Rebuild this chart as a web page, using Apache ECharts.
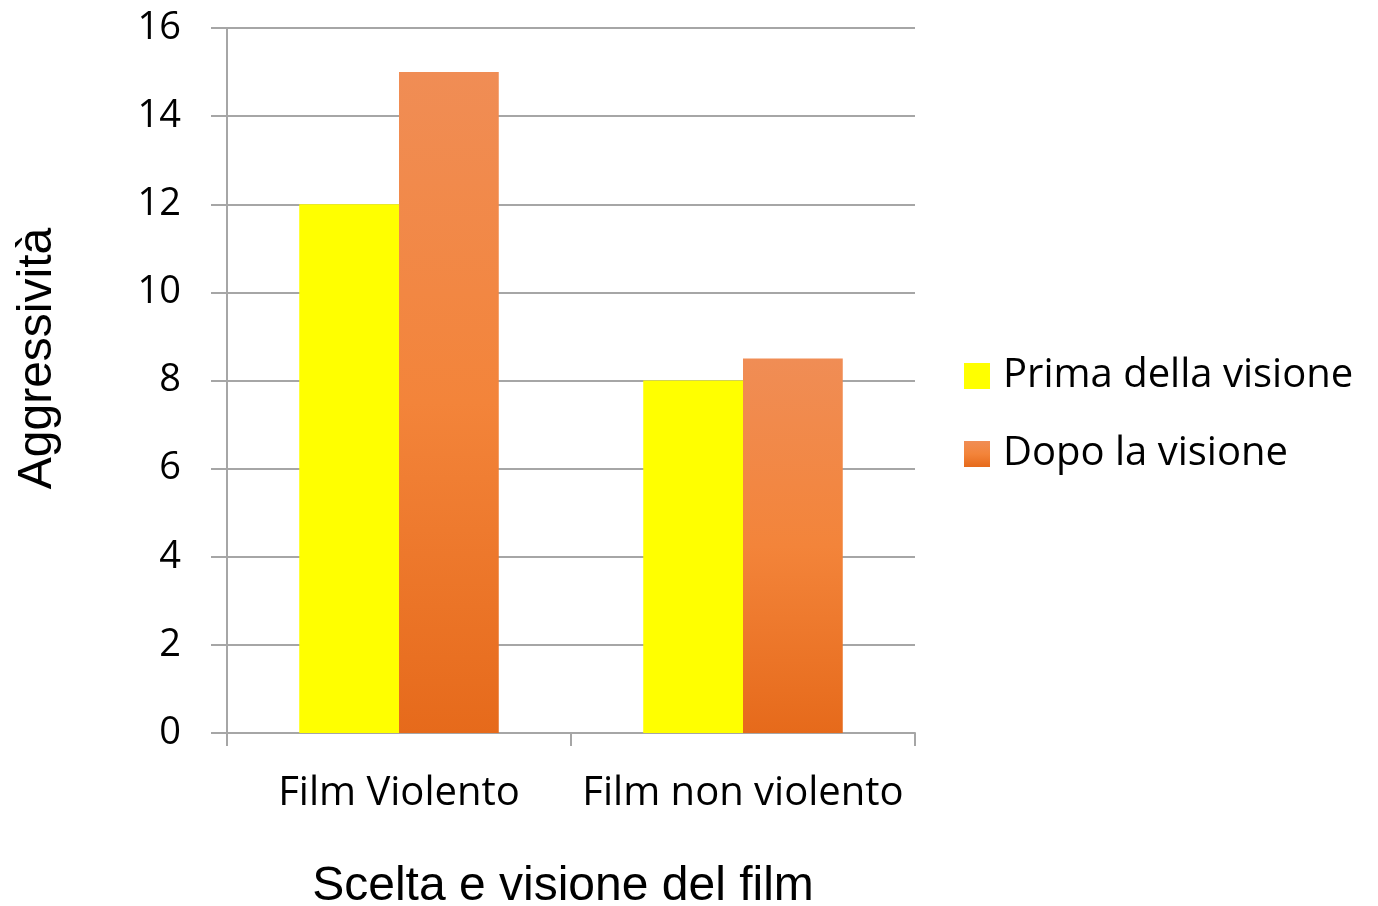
<!DOCTYPE html>
<html>
<head>
<meta charset="utf-8">
<script src="https://cdn.jsdelivr.net/npm/echarts@6/dist/echarts.min.js"></script>
<style>
  html, body { margin: 0; padding: 0; background: #ffffff; }
  #chart { width: 1378px; height: 906px; }
</style>
</head>
<body>
<div id="chart"></div>
<script>
// Aggressiveness before and after watching, by type of film
const categories = ['Film Violento', 'Film non violento'];
const seriesNames = ['Prima della visione', 'Dopo la visione'];
const primaValues = [12, 8];
const dopoValues = [15, 8.5];
const yTicks = { min: 0, max: 16, interval: 2 };

const labelFont = '"Open Sans", Lato, sans-serif';
const titleFont = '"Liberation Sans", Arial, sans-serif';
const gridColor = '#a6a6a6';

const orangeFill = new echarts.graphic.LinearGradient(0, 0, 0, 1, [
  { offset: 0, color: '#f08d55' },
  { offset: 0.5, color: '#f3843a' },
  { offset: 1, color: '#e66a1b' }
]);

const chart = echarts.init(document.getElementById('chart'), null, { renderer: 'canvas' });
chart.setOption({
  backgroundColor: '#ffffff',
  animation: false,
  grid: { left: 227, right: 463, top: 28, bottom: 173, containLabel: false, outerBoundsMode: 'none' },
  legend: {
    orient: 'vertical',
    left: 959,
    top: 351,
    itemWidth: 26,
    itemHeight: 26,
    itemGap: 38,
    icon: 'rect',
    data: seriesNames,
    textStyle: {
      fontFamily: labelFont,
      fontSize: 40,
      color: '#000000',
      lineHeight: 34,
      padding: [0, 0, 0, 8]
    }
  },
  xAxis: {
    type: 'category',
    data: categories,
    name: 'Scelta e visione del film',
    nameLocation: 'middle',
    nameGap: 130,
    nameTextStyle: { fontFamily: titleFont, fontSize: 48, color: '#000000', padding: [0, 16, 0, 0] },
    axisLine: { show: true, lineStyle: { color: gridColor, width: 2 } },
    axisTick: { show: true, length: 13, lineStyle: { color: gridColor, width: 2 } },
    axisLabel: { fontFamily: labelFont, fontSize: 40, color: '#000000', margin: 41, interval: 0 }
  },
  yAxis: {
    type: 'value',
    min: yTicks.min,
    max: yTicks.max,
    interval: yTicks.interval,
    name: 'Aggressività',
    nameLocation: 'middle',
    nameGap: 165,
    nameTextStyle: { fontFamily: titleFont, fontSize: 48, color: '#000000', padding: [0, 0, 0, 44] },
    axisLine: { show: true, lineStyle: { color: gridColor, width: 2 } },
    axisTick: { show: true, inside: false, length: 16, lineStyle: { color: gridColor, width: 2 } },
    axisLabel: { fontFamily: labelFont, fontSize: 38, color: '#000000', margin: 46 },
    splitLine: { show: true, lineStyle: { color: gridColor, width: 2 } }
  },
  series: [
    {
      name: seriesNames[0],
      type: 'bar',
      data: primaValues,
      barGap: '0%',
      barCategoryGap: '42%',
      itemStyle: { color: '#ffff00' }
    },
    {
      name: seriesNames[1],
      type: 'bar',
      data: dopoValues,
      barGap: '0%',
      barCategoryGap: '42%',
      itemStyle: { color: orangeFill }
    }
  ]
});
</script>
</body>
</html>
